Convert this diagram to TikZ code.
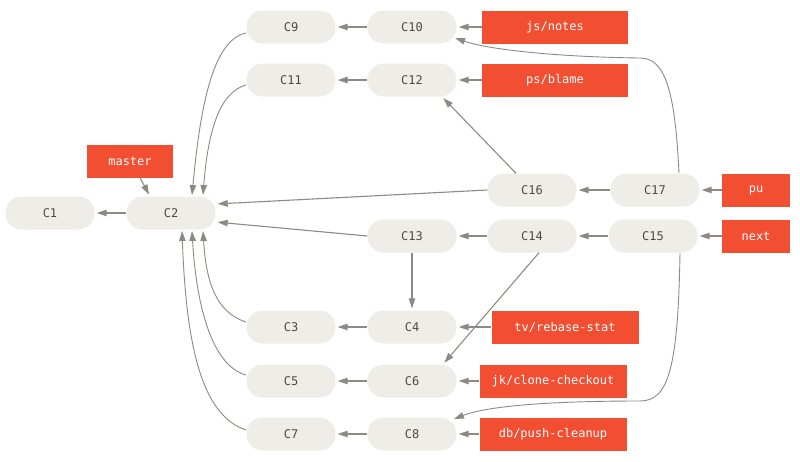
\documentclass[tikz,border=0pt]{standalone}
\usepackage{fontspec}
\newfontfamily\codefont{DejaVu Sans Mono}
\usetikzlibrary{arrows.meta,calc}
\definecolor{commitfill}{HTML}{EEEDE7}
\definecolor{committext}{HTML}{4A4A48}
\definecolor{refred}{HTML}{F14E32}
\definecolor{linkgray}{HTML}{8D8A83}
\begin{document}
\begin{tikzpicture}[x=1pt,y=-1pt,
  commit/.style={rectangle,rounded corners=16pt,fill=commitfill,
    minimum width=89pt,minimum height=33pt,inner sep=0pt,
    font=\codefont\fontsize{12}{14}\selectfont,text=committext},
  ref/.style={rectangle,fill=refred,minimum height=33pt,inner sep=0pt,
    font=\codefont\fontsize{12}{14}\selectfont,text=white},
  link/.style={draw=linkgray,line width=1.1pt,
    -{Triangle[length=10pt,width=6.5pt]},shorten >=2pt},
  curvelink/.style={draw=linkgray,line width=0.9pt,
    -{Triangle[length=10pt,width=6.5pt]}}]
\useasboundingbox (0,0) rectangle (800,461);

% commits
\node[commit] (C1)  at (50,213)  {C1};
\node[commit] (C2)  at (171,213) {C2};
\node[commit] (C9)  at (291,27)  {C9};
\node[commit] (C10) at (412,27)  {C10};
\node[commit] (C11) at (291,80)  {C11};
\node[commit] (C12) at (412,80)  {C12};
\node[commit] (C16) at (532,190) {C16};
\node[commit] (C17) at (655,190) {C17};
\node[commit] (C13) at (412,236) {C13};
\node[commit] (C14) at (532,236) {C14};
\node[commit] (C15) at (653,236) {C15};
\node[commit] (C3)  at (291,327) {C3};
\node[commit] (C4)  at (412,327) {C4};
\node[commit] (C5)  at (291,381) {C5};
\node[commit] (C6)  at (412,381) {C6};
\node[commit] (C7)  at (291,434) {C7};
\node[commit] (C8)  at (412,434) {C8};

% branch refs
\node[ref,minimum width=86pt]  (master) at (130,161) {master};
\node[ref,minimum width=146pt] (jsnotes) at (555,27) {js/notes};
\node[ref,minimum width=146pt] (psblame) at (555,80) {ps/blame};
\node[ref,minimum width=68pt]  (pu)   at (756,190) {pu};
\node[ref,minimum width=68pt]  (next) at (756,236) {next};
\node[ref,minimum width=147pt] (tv) at (565,327) {tv/rebase-stat};
\node[ref,minimum width=147pt] (jk) at (553,381) {jk/clone-checkout};
\node[ref,minimum width=147pt] (db) at (553,434) {db/push-cleanup};

% straight parent links
\draw[link] (C2) -- (C1);
\draw[link] (C10) -- (C9);
\draw[link] (C12) -- (C11);
\draw[link] (C17) -- (C16);
\draw[link] (C14) -- (C13);
\draw[link] (C15) -- (C14);
\draw[link] (C4) -- (C3);
\draw[link] (C6) -- (C5);
\draw[link] (C8) -- (C7);
\draw[link] (C13) -- (C4);
\draw[link] (C16.west) -- ([yshift=9pt]C2.east);
\draw[link] (C13.west) -- ([yshift=-9pt]C2.east);
\draw[link] ([xshift=-16pt]C16.north) -- ([xshift=30pt]C12.south);
\draw[link] ([xshift=7pt]C14.south) -- ([xshift=31pt]C6.north);
\draw[link] ([xshift=10pt]master.south) -- ([xshift=-21pt]C2.north);

% refs pointing at commits
\draw[link] (jsnotes) -- (C10);
\draw[link] (psblame) -- (C12);
\draw[link] (pu) -- (C17);
\draw[link] (next) -- (C15);
\draw[link] (tv) -- (C4);
\draw[link] (jk) -- (C6);
\draw[link] (db) -- (C8);

% curved merges into C2
\coordinate (c2n1) at (192,195);
\coordinate (c2n2) at (203,195);
\coordinate (c2s1) at (182,231);
\coordinate (c2s2) at (192,231);
\coordinate (c2s3) at (203,231);
\draw[curvelink] (246,33) .. controls (212,40) and (200,110) .. (c2n1);
\draw[curvelink] (246,85) .. controls (220,92) and (208,130) .. (c2n2);
\draw[curvelink] (246,322) .. controls (215,312) and (206,280) .. (c2s3);
\draw[curvelink] (246,375) .. controls (210,365) and (196,300) .. (c2s2);
\draw[curvelink] (246,430) .. controls (200,415) and (186,340) .. (c2s1);

% long merges on the right
\coordinate (c10in) at (455,38);
\coordinate (c8in) at (454,419);
\draw[curvelink] (679,173) .. controls (675,90) and (665,58) .. (640,58)
  .. controls (560,57) and (490,50) .. (c10in);
\draw[curvelink] (680,253) .. controls (678,370) and (668,401) .. (640,401)
  .. controls (560,401) and (490,405) .. (c8in);
\end{tikzpicture}
\end{document}
